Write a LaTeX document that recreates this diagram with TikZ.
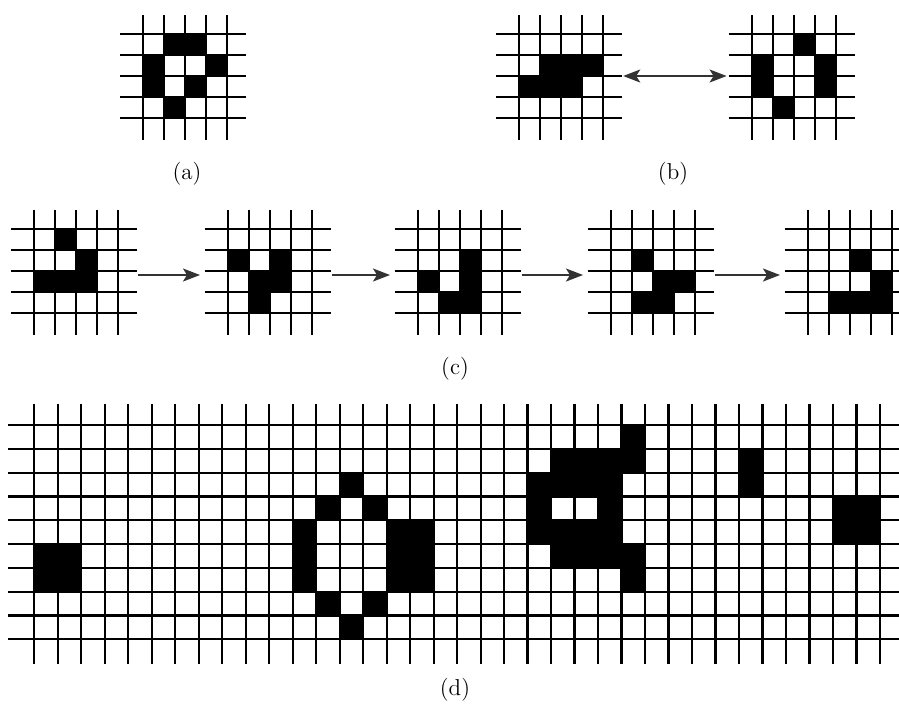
\documentclass[tikz,border=0pt]{standalone}
\usepackage{fontspec}
\usepackage{tikz}
\usetikzlibrary{arrows.meta}
\tikzset{gridline/.style = {line width=1.1pt},
  lifearrow/.style = {line width=1pt, black!80, shorten >=1pt, shorten <=.5pt,
    >={Stealth[length=8.5pt, width=6.5pt, inset=2pt]}},
  caption/.style = {font=\fontsize{11.5}{14}\selectfont}}

% #1 name, #2 #3 first line crossing, #4 #5 lines across/down,
% #6 #7 cell size, #8 live cells col/row
\newcommand{\lifegrid}[8]{%
  \begin{scope}[shift={(#2,#3)}, x=#6, y=-#7]
    \foreach \c/\r in {#8} \fill (\c,\r) rectangle ++(1,1);
    \foreach \i in {1,...,#4} \draw[gridline] (\i-1,-0.9) -- (\i-1,#5+0.05);
    \foreach \j in {1,...,#5} \draw[gridline] (-1.1,\j-1) -- (#4-0.1,\j-1);
    \coordinate (#1-w) at (-1.1,{(#5-1)/2});
    \coordinate (#1-e) at (#4-0.1,{(#5-1)/2});
  \end{scope}}

\begin{document}
\begin{tikzpicture}[x=.5pt, y=-.5pt]
  \useasboundingbox (0,0) rectangle (899,713);
  % (a)
  \lifegrid{a}{143.3}{34}{5}{5}{10.5pt}{10.5pt}{1/0,2/0,0/1,3/1,0/2,2/2,1/3}
  \node[caption] (cap-a) at (187,174) {(a)};
  % (b)
  \lifegrid{b1}{519.3}{34}{5}{5}{10.5pt}{10.5pt}{1/1,2/1,3/1,0/2,1/2,2/2}
  \lifegrid{b2}{751.7}{34}{5}{5}{10.5pt}{10.5pt}{2/0,0/1,3/1,0/2,3/2,1/3}
  \draw[lifearrow, <->] (b1-e) -- (b2-w);
  \node[caption] (cap-b) at (673,174) {(b)};
  % (c)
  \lifegrid{c1}{34.3}{229}{5}{5}{10.5pt}{10.5pt}{1/0,2/1,0/2,1/2,2/2}
  \lifegrid{c2}{227.7}{229}{5}{5}{10.5pt}{10.5pt}{0/1,2/1,1/2,2/2,1/3}
  \lifegrid{c3}{417.7}{229}{5}{5}{10.5pt}{10.5pt}{2/1,0/2,2/2,1/3,2/3}
  \lifegrid{c4}{610.7}{229}{5}{5}{10.5pt}{10.5pt}{1/1,2/2,3/2,1/3,2/3}
  \lifegrid{c5}{807.7}{229}{5}{5}{10.5pt}{10.5pt}{2/1,3/2,1/3,2/3,3/3}
  \foreach \a/\b in {c1/c2,c2/c3,c3/c4,c4/c5}
    \draw[lifearrow, ->, shorten >=2.3pt] ([yshift=-2pt]\a-e) -- ([yshift=-2pt]\b-w);
  \node[caption] (cap-c) at (455,369) {(c)};
  % (d)
  \lifegrid{d}{34.3}{425}{37}{10}{11.745pt}{11.9pt}{0/5,1/5,0/6,1/6,
    13/2,12/3,14/3,11/4,11/5,11/6,15/4,16/4,15/5,16/5,15/6,16/6,12/7,14/7,13/8,
    25/0,22/1,23/1,24/1,25/1,21/2,22/2,23/2,24/2,21/3,24/3,
    21/4,22/4,23/4,24/4,22/5,23/5,24/5,25/5,25/6,
    30/1,30/2,34/3,35/3,34/4,35/4}
  \node[caption] (cap-d) at (455,690) {(d)};
\end{tikzpicture}
\end{document}
